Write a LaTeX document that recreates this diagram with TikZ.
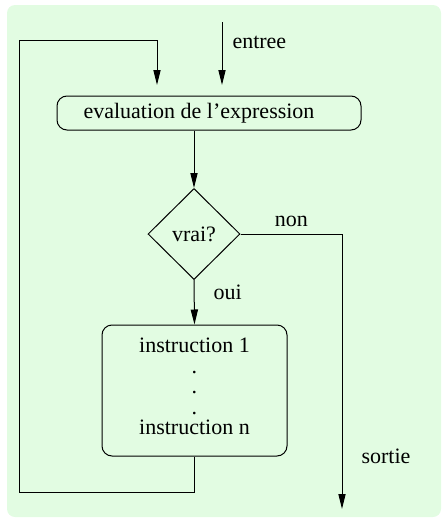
\documentclass[tikz,border=0pt]{standalone}
\usepackage{fontspec}
\setmainfont{Liberation Serif}
\usetikzlibrary{arrows.meta,shapes.geometric}
\definecolor{fondvert}{RGB}{226,252,226}

\begin{document}
\begin{tikzpicture}[
        x=0.5pt, y=-0.5pt,
        font=\fontsize{11}{10.25}\selectfont,
        % Styles des boites
        evalbox/.style={rectangle, rounded corners=5pt, draw=black, line width=0.5pt, minimum width=152pt, minimum height=17pt, inner sep=0pt, align=center},
        instrbox/.style={rectangle, rounded corners=5pt, draw=black, line width=0.5pt, minimum width=92.5pt, minimum height=65.5pt, inner sep=0pt, align=center},
        testbox/.style={diamond, draw=black, line width=0.5pt, minimum width=46pt, minimum height=45.5pt, inner sep=0pt},
        % Style des fleches
        fleche/.style={-{Triangle[length=7.5pt, width=3.6pt]}, line width=0.5pt, draw=black},
        % Style des etiquettes
        lbl/.style={inner sep=1pt}
    ]

    % Fond
    \useasboundingbox (0,0) rectangle (441,520);
    \fill[fondvert, rounded corners=4pt] (7,5) rectangle (441,517);

    % Noeuds
    \node[evalbox] (eval) at (209,113) {evaluation de l'expression\hspace{10pt}};
    \node[testbox] (vrai) at (194,234) {vrai?};
    \node[instrbox] (instr) at (194.5,390.5) {instruction 1\\.\\.\\.\\instruction n\rule[-4pt]{0pt}{0pt}};

    % Points de passage
    \coordinate (entree) at (222,22);
    \coordinate (entreefin) at (222,85);
    \coordinate (retour) at (157,85);
    \coordinate (loopbas) at (19.5,492);
    \coordinate (loophaut) at (19.5,40.5);
    \coordinate (sortie) at (342,509);

    % Fleches
    \draw[fleche] (entree) -- node[lbl, pos=0.33, right=4pt] {entree} (entreefin);
    \draw[fleche] (eval.south -| vrai.north) -- (vrai.north);
    \draw[fleche] (vrai.east) -| node[lbl, pos=0.25, above=2.5pt] {non} node[lbl, pos=0.905, right=8.5pt] {sortie} (sortie);
    \draw[fleche] (vrai.south) -- node[lbl, pos=0.28, right=8.5pt] {oui} (instr.north);

    % Boucle de retour
    \draw[fleche] (instr.south) |- (loopbas) -- (loophaut) -| (retour);

\end{tikzpicture}
\end{document}
